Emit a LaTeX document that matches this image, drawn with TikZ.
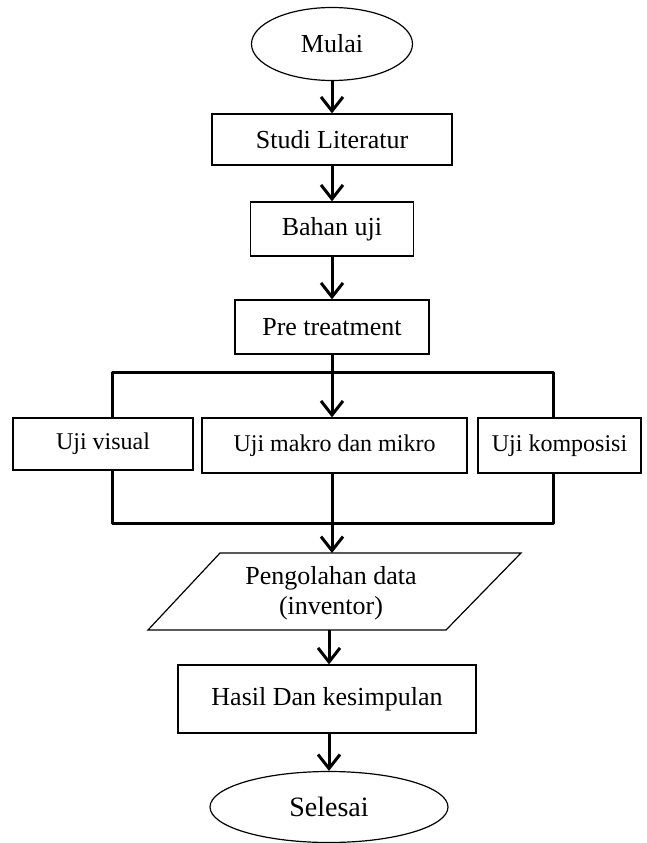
\documentclass[tikz,border=0pt]{standalone}
\usepackage{fontspec}
\setmainfont{Liberation Serif}
\usetikzlibrary{arrows.meta,shapes.geometric}
\begin{document}
\begin{tikzpicture}[x=1pt,y=-1pt,
  box/.style={draw,line width=1.3pt,inner sep=0pt,font=\fontsize{26}{30}\selectfont},
  ujibox/.style={box,font=\fontsize{24}{28}\selectfont},
  term/.style={draw,ellipse,line width=1.2pt,inner sep=0pt},
  flow/.style={line width=3pt,-{Straight Barb[length=14pt,width=22pt,line width=3pt]}},
  link/.style={line width=3pt,line join=round}]
\useasboundingbox (0,0) rectangle (646,843);

% terminals and boxes
\node[term,minimum width=161pt,minimum height=73pt,font=\fontsize{26}{30}\selectfont] (mulai) at (332,44) {Mulai};
\node[box,minimum width=240pt,minimum height=51pt] (studi) at (332,139.5) {Studi Literatur};
\node[box,minimum width=163pt,minimum height=54pt] (bahan) at (332,229) {Bahan uji};
\node[box,minimum width=194pt,minimum height=54pt] (pre) at (332,327) {Pre treatment};
\node[ujibox,minimum width=180pt,minimum height=52pt] (visual) at (103,444) {Uji visual};
\node[ujibox,minimum width=265pt,minimum height=55pt] (makro) at (334.5,445.5) {Uji makro dan mikro};
\node[ujibox,minimum width=163pt,minimum height=55pt] (kompo) at (559.5,445.5) {Uji komposisi};

% parallelogram
\coordinate (pTL) at (220,553);
\coordinate (pTR) at (521,553);
\coordinate (pBR) at (446,630);
\coordinate (pBL) at (148,630);
\draw[line width=1.2pt] (pTL) -- (pTR) -- (pBR) -- (pBL) -- cycle;
\node[align=center,inner sep=0pt,font=\fontsize{26}{30}\selectfont] (olah) at (331,593) {Pengolahan data\\(inventor)};
\coordinate (pTop) at (332,553);
\coordinate (pBot) at (329,630);

\node[box,minimum width=298pt,minimum height=68pt] (hasil) at (327,699) {Hasil Dan kesimpulan};
\node[term,minimum width=238pt,minimum height=71pt,font=\fontsize{28}{32}\selectfont] (selesai) at (329,807) {Selesai};

% branch coordinates
\coordinate (tL) at (112,372);
\coordinate (tR) at (553,372);
\coordinate (bL) at (112,523);
\coordinate (bR) at (553,523);

% connectors
\draw[flow] (mulai.south) -- (studi.north);
\draw[flow] (studi.south) -- (bahan.north);
\draw[flow] (bahan.south) -- (pre.north);
\draw[flow] (pre.south) -- (pre.south |- makro.north);
\draw[link] (visual.north -| tL) -- (tL) -- (tR) -- (kompo.north -| tR);
\draw[link] (visual.south -| bL) -- (bL) -- (bR) -- (kompo.south -| bR);
\draw[flow] (makro.south -| pTop) -- (pTop);
\draw[flow] (pBot) -- (pBot |- hasil.north);
\draw[flow] (hasil.south -| pBot) -- (selesai.north);
\end{tikzpicture}
\end{document}
